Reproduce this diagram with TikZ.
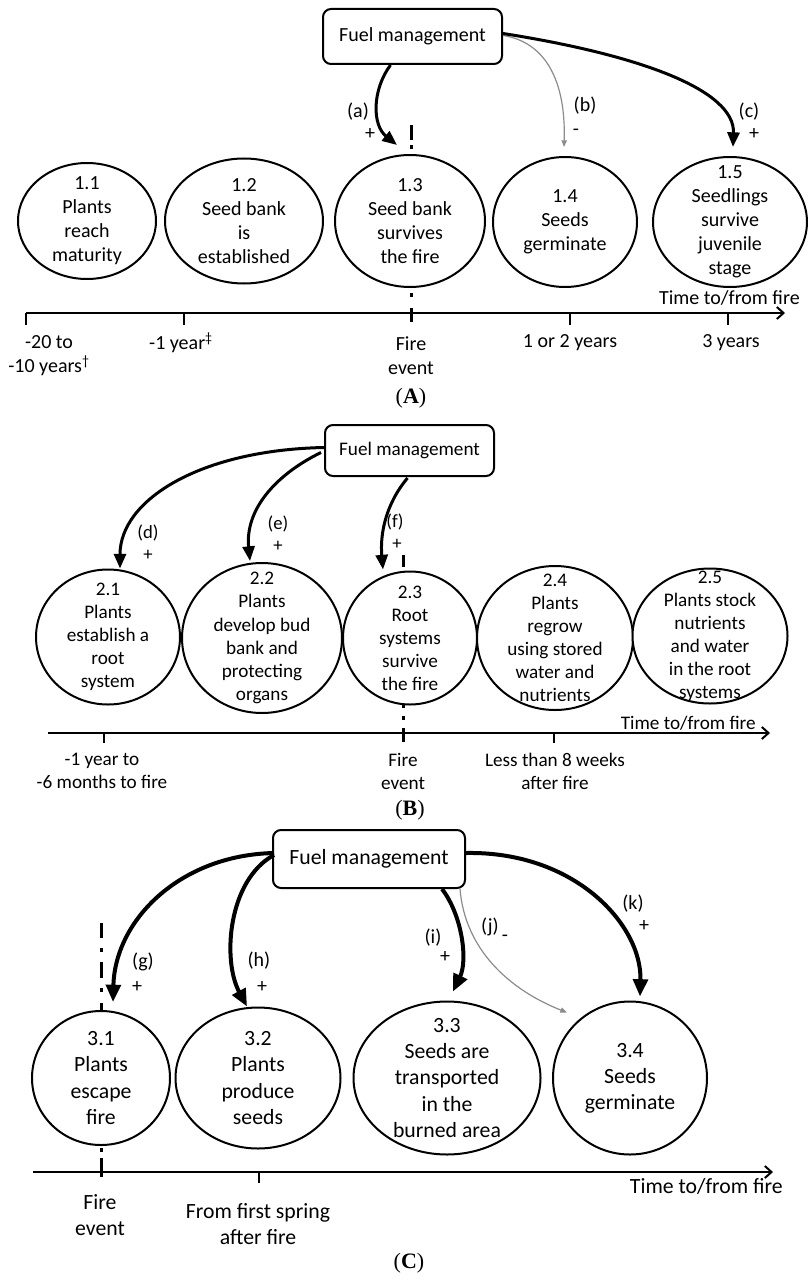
\documentclass[tikz,border=0pt]{standalone}
\usepackage{fontspec}
\setmainfont{Carlito}
\newfontfamily\serifpanel{Liberation Serif}
\usetikzlibrary{shapes.geometric,arrows.meta,calc}
\definecolor{tgray}{RGB}{140,140,140}
\newcommand\fsA{\fontsize{15}{18}\selectfont}
\newcommand\fsB{\fontsize{14.4}{17.3}\selectfont}
\newcommand\fsC{\fontsize{16.3}{19.6}\selectfont}
\newcommand\fsL{\fontsize{14}{16}\selectfont}
\tikzset{
  ell/.style={ellipse, draw, line width=1.5pt, fill=white, inner sep=0pt},
  fmbox/.style={draw, rounded corners=6pt, line width=1.5pt, fill=white, inner sep=0pt},
  lbl/.style={inner sep=0pt, align=center},
  thkA/.style={line width=2.25pt, -{Triangle[length=11pt,width=9pt]}},
  thkC/.style={line width=3pt, -{Triangle[length=13pt,width=11pt]}},
  gry/.style={draw=tgray, line width=0.9pt, -{Triangle[length=5pt,width=4pt]}},
  axis/.style={line width=1.5pt, -{Straight Barb[length=5pt,width=9pt]}},
  tck/.style={line width=1.5pt},
  firemark/.style={line width=2.25pt},
  panel/.style={inner sep=0pt, font=\serifpanel\fontsize{16.5}{18}\selectfont},
}
\begin{document}
\begin{tikzpicture}[x=0.75pt, y=-0.75pt]
\fill[white] (0,0) rectangle (807,1280);
\useasboundingbox (0,0) rectangle (807,1280);

% ================= Panel A =================
\draw[firemark] (411,125) -- (411,140) (411,145) -- (411,149) (411,293) -- (411,297) (411,308) -- (411,322);
\node[fmbox, minimum width=134.25pt, minimum height=41.25pt, font=\fsA] (fmA) at (412.5,36.5) {Fuel management};

\node[ell, minimum width=103.5pt, minimum height=87pt] (e11) at (87,221) {};
\node[ell, minimum width=118.5pt, minimum height=93.75pt] (e12) at (244,221) {};
\node[ell, minimum width=112.5pt, minimum height=99pt] (e13) at (410,221) {};
\node[ell, minimum width=108pt, minimum height=97.5pt] (e14) at (565,222) {};
\node[ell, minimum width=115.5pt, minimum height=97.5pt] (e15) at (730,222) {};
\node[lbl, font=\fsA] (t11) at (e11) {1.1\\Plants\\reach\\maturity};
\node[lbl, font=\fsA] (t12) at (e12) {1.2\\Seed bank\\is\\established};
\node[lbl, font=\fsA] (t13) at (e13) {1.3\\Seed bank\\survives\\the fire};
\node[lbl, font=\fsA] (t14) at (e14) {1.4\\Seeds\\germinate};
\node[lbl, font=\fsA] (t15) at (e15) {1.5\\Seedlings\\survive\\juvenile\\stage};

\draw[thkA] ($(fmA.south)+(-22,0)$) .. controls (372,90) and (372,125) .. ($(e13.north)+(-13,-9)$);
\draw[gry] ($(fmA.east)+(0,-1)$) .. controls (545,42) and (566,80) .. ($(e14.north)+(-1,-9)$);
\draw[thkA] ($(fmA.east)+(0,-3)$) .. controls (640,55) and (735,90) .. ($(e15.north)+(3,-9)$);
\node[lbl, font=\fsA] (la) at (358,112) {(a)};
\node[lbl, font=\fsA] (lap) at (370,134) {+};
\node[lbl, font=\fsA] (lb) at (585,106) {(b)};
\node[lbl, font=\fsA] (lbm) at (576,132) {-};
\node[lbl, font=\fsA] (lc) at (749,112) {(c)};
\node[lbl, font=\fsA] (lcp) at (754,134) {+};

\coordinate (axAs) at (26,313);
\coordinate (axAe) at (785,313);
\draw[axis] (axAs) -- (axAe);
\draw[tck] (26,313) -- (26,325) (184,313) -- (184,325) (570,313) -- (570,325) (728,313) -- (728,325);
\node[lbl, font=\fsA, anchor=east] (timeA) at (800,298) {Time to/from fire};
\node[lbl, font=\fsA] (xA1) at (49,356) {-20 to\\-10 years\textsuperscript{†}};
\node[lbl, font=\fsA] (xA2) at (181,343) {-1 year\textsuperscript{‡}};
\node[lbl, font=\fsA] (xA3) at (411,356) {Fire\\event};
\node[lbl, font=\fsA] (xA4) at (570,343) {1 or 2 years};
\node[lbl, font=\fsA] (xA5) at (731,343) {3 years};
\node[panel] (pA) at (411,398) {(\textbf{A})};

% ================= Panel B =================
\draw[firemark] (403,555) -- (403,567) (403,704) -- (403,708) (403,716) -- (403,720) (403,728) -- (403,742);
\node[fmbox, minimum width=126.75pt, minimum height=38.25pt, font=\fsB] (fmB) at (409.5,450.5) {Fuel management};

\node[ell, minimum width=108pt, minimum height=101.25pt] (e21) at (108,637) {};
\node[ell, minimum width=120pt, minimum height=112.5pt] (e22) at (262,638) {};
\node[ell, minimum width=100.5pt, minimum height=99.75pt] (e23) at (410,638) {};
\node[ell, minimum width=117pt, minimum height=108pt] (e24) at (555,638) {};
\node[ell, minimum width=116.25pt, minimum height=101.25pt] (e25) at (710,636) {};
\node[lbl, font=\fsB] (t21) at (e21) {2.1\\Plants\\establish a\\root\\system};
\node[lbl, font=\fsB] (t22) at (e22) {2.2\\Plants\\develop bud\\bank and\\protecting\\organs};
\node[lbl, font=\fsB] (t23) at (e23) {2.3\\Root\\systems\\survive\\the fire};
\node[lbl, font=\fsB] (t24) at (e24) {2.4\\Plants\\regrow\\using stored\\water and\\nutrients};
\node[lbl, font=\fsB] (t25) at (e25) {2.5\\Plants stock\\nutrients\\and water\\in the root\\systems};

\draw[thkA] ($(fmB.west)+(0,-3)$) .. controls (200,450) and (120,500) .. ($(e21.north)+(12,0)$);
\draw[thkA] ($(fmB.west)+(-3,2)$) .. controls (275,475) and (245,510) .. ($(e22.north)+(-12,-1)$);
\draw[thkA] ($(fmB.south)+(-2,1)$) .. controls (385,505) and (380,535) .. ($(e23.north)+(-27,-1)$);
\node[lbl, font=\fsL] (ld) at (148,533) {(d)};
\node[lbl, font=\fsL] (ldp) at (148,555) {+};
\node[lbl, font=\fsL] (le) at (278,524) {(e)};
\node[lbl, font=\fsL] (lep) at (278,546) {+};
\node[lbl, font=\fsL] (lf) at (395,522) {(f)};
\node[lbl, font=\fsL] (lfp) at (397,544) {+};

\coordinate (axBs) at (48,733);
\coordinate (axBe) at (770,733);
\draw[axis] (axBs) -- (axBe);
\draw[tck] (104,733) -- (104,743) (554,733) -- (554,743);
\node[lbl, font=\fsB, anchor=east] (timeB) at (756,723) {Time to/from fire};
\node[lbl, font=\fsB] (xB1) at (102,771) {-1 year to\\-6 months to fire};
\node[lbl, font=\fsB] (xB2) at (403,771) {Fire\\event};
\node[lbl, font=\fsB] (xB3) at (555,771) {Less than 8 weeks\\after fire};
\node[panel] (pB) at (410,810) {(\textbf{B})};

% ================= Panel C =================
\draw[firemark] (101,923) -- (101,938) (101,948) -- (101,952) (101,962) -- (101,978) (101,988) -- (101,992) (101,1003) -- (101,1011) (101,1148) -- (101,1152) (101,1158) -- (101,1177);
\node[fmbox, minimum width=144pt, minimum height=43.5pt, font=\fsC] (fmC) at (369,859) {Fuel management};

\node[ell, minimum width=103.5pt, minimum height=100.5pt] (e31) at (101,1078) {};
\node[ell, minimum width=123.75pt, minimum height=105.75pt] (e32) at (258,1078) {};
\node[ell, minimum width=140.25pt, minimum height=114.75pt] (e33) at (447,1078) {};
\node[ell, minimum width=115.5pt, minimum height=114.75pt] (e34) at (630,1078) {};
\node[lbl, font=\fsC] (t31) at (e31) {3.1\\Plants\\escape\\fire};
\node[lbl, font=\fsC] (t32) at (e32) {3.2\\Plants\\produce\\seeds};
\node[lbl, font=\fsC] (t33) at (e33) {3.3\\Seeds are\\transported\\in the\\burned area};
\node[lbl, font=\fsC] (t34) at (e34) {3.4\\Seeds\\germinate};

\draw[thkC] ($(fmC.west)+(2,-6)$) .. controls (180,855) and (115,920) .. ($(e31.north)+(12,-8)$);
\draw[thkC] ($(fmC.west)+(2,-4)$) .. controls (228,880) and (222,960) .. ($(e32.north)+(-11,0)$);
\draw[thkC] ($(fmC.south)+(73,0)$) .. controls (462,915) and (468,960) .. ($(e33.north)+(6,-9)$);
\draw[gry] ($(fmC.south)+(91,0)$) .. controls (465,950) and (510,990) .. ($(e34.north)+(-63,12)$);
\draw[thkC] ($(fmC.east)+(0,-6)$) .. controls (575,851) and (642,925) .. ($(e34.north)+(10,-4)$);
\node[lbl, font=\fsA] (lg) at (143,962) {(g)};
\node[lbl, font=\fsA] (lgp) at (137,987) {+};
\node[lbl, font=\fsA] (lh) at (259,961) {(h)};
\node[lbl, font=\fsA] (lhp) at (262,987) {+};
\node[lbl, font=\fsA] (li) at (433,938) {(i)};
\node[lbl, font=\fsA] (lip) at (445,957) {+};
\node[lbl, font=\fsA] (lj) at (490,927) {(j)};
\node[lbl, font=\fsA] (ljm) at (505,938) {-};
\node[lbl, font=\fsA] (lk) at (633,904) {(k)};
\node[lbl, font=\fsA] (lkp) at (644,926) {+};

\coordinate (axCs) at (33,1172);
\coordinate (axCe) at (773,1172);
\draw[axis] (axCs) -- (axCe);
\draw[tck] (259,1172) -- (259,1183);
\node[lbl, font=\fsC, anchor=east] (timeC) at (783,1186) {Time to/from fire};
\node[lbl, font=\fsC] (xC1) at (100,1215) {Fire\\event};
\node[lbl, font=\fsC] (xC2) at (258,1224) {From first spring\\after fire};
\node[panel] (pC) at (409,1263) {(\textbf{C})};
\end{tikzpicture}
\end{document}
